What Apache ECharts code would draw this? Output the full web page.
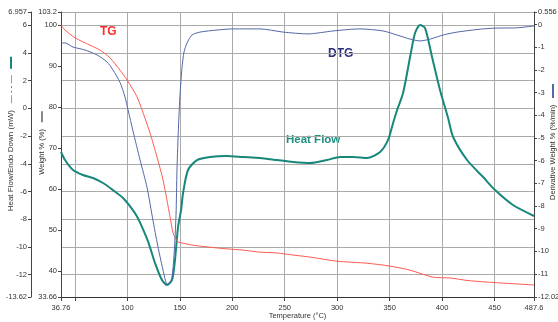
<!DOCTYPE html>
<html>
<head>
<meta charset="utf-8">
<title>TGA - DTG - Heat Flow</title>
<script src="https://cdn.jsdelivr.net/npm/echarts@6/dist/echarts.min.js"></script>
<style>
  html, body { margin: 0; padding: 0; background: #fff; }
  #main { width: 558px; height: 322px; }
</style>
</head>
<body>
<div id="main"></div>
<script>
// TG: weight % vs temperature
var tgTemp = [36.76, 40.6, 50.1, 64.4, 74.0, 83.5, 93.0, 99.7, 109.2, 116.8, 121.6, 128.3, 134.0, 140.7, 143.5, 146.0, 148.3, 153.1, 162.6, 178.8, 195.0, 210.3, 226.5, 242.7, 258.0, 274.2, 299.9, 328.5, 350.4, 369.5, 391.4, 407.6, 423.8, 442.9, 467.6, 487.6];
var tgWeight = [100.0, 98.8, 96.9, 95.1, 93.9, 92.0, 89.0, 86.6, 82.5, 77.3, 73.7, 67.8, 62.2, 53.2, 49.3, 48.0, 47.1, 46.8, 46.3, 45.8, 45.4, 45.1, 44.6, 44.4, 43.9, 43.4, 42.4, 41.9, 41.2, 40.2, 38.5, 38.3, 37.7, 37.3, 36.9, 36.6];

// DTG: derivative weight %/min
var dtgTemp = [36.76, 40.6, 48.2, 59.6, 71.1, 80.6, 86.3, 93.0, 97.8, 100.6, 105.4, 112.1, 118.7, 123.5, 128.3, 134.0, 138.0, 140.7, 142.6, 144.5, 146.4, 147.3, 148.8, 150.2, 152.1, 154.0, 156.9, 161.6, 169.3, 185.5, 200.7, 226.5, 248.4, 272.2, 296.1, 321.8, 343.7, 357.1, 369.5, 379.0, 388.6, 401.0, 414.3, 439.1, 455.3, 467.6, 487.6];
var dtgValue = [-0.81, -0.81, -0.99, -1.12, -1.34, -1.65, -2.00, -2.55, -3.20, -3.75, -4.70, -5.97, -7.17, -8.40, -9.60, -10.83, -11.45, -11.36, -11.14, -10.17, -8.40, -6.42, -4.43, -3.10, -1.91, -1.21, -0.81, -0.46, -0.33, -0.24, -0.19, -0.19, -0.33, -0.41, -0.28, -0.19, -0.28, -0.46, -0.64, -0.72, -0.64, -0.46, -0.33, -0.19, -0.15, -0.15, -0.06];

// Heat flow, endo down (mW)
var hfTemp = [36.76, 40.6, 48.2, 57.7, 67.3, 76.8, 86.3, 95.9, 104.4, 109.2, 112.1, 119.7, 126.4, 133.0, 137.8, 142.6, 145.4, 148.3, 151.2, 153.1, 157.8, 166.4, 178.8, 195.0, 210.3, 226.5, 242.7, 258.0, 274.2, 290.3, 302.7, 315.1, 328.5, 340.9, 348.5, 353.3, 357.1, 362.8, 369.5, 374.2, 379.0, 383.8, 390.4, 398.0, 405.7, 410.5, 423.8, 439.1, 450.5, 467.6, 487.6];
var hfValue = [-3.15, -3.73, -4.45, -4.81, -5.03, -5.39, -5.90, -6.47, -7.25, -7.80, -8.25, -9.60, -11.17, -12.39, -12.75, -12.39, -10.95, -8.57, -7.34, -6.11, -4.45, -3.73, -3.51, -3.44, -3.51, -3.58, -3.73, -3.87, -3.95, -3.73, -3.51, -3.51, -3.58, -3.15, -2.28, -1.06, -0.12, 1.11, 3.71, 5.44, 6.02, 5.80, 3.71, 1.33, -0.70, -2.07, -3.73, -4.96, -5.90, -6.98, -7.77];

// axis ticks / labels
var xLabels = [36.76, 100, 150, 200, 250, 300, 350, 400, 450, 487.6];
var xTicks = [36.76, 50, 100, 150, 200, 250, 300, 350, 400, 450, 487.6];
var hfTicks = [-13.62, -12, -10, -8, -6, -4, -2, 0, 2, 4, 6, 6.957];
var wTicks = [33.66, 40, 50, 60, 70, 80, 90, 100, 103.2];
var dTicks = [-12.02, -11, -10, -9, -8, -7, -6, -5, -4, -3, -2, -1, 0, 0.556];

var FONT = "'Liberation Sans', Arial, sans-serif";
var TEAL = '#17877a', RED = '#ff5a4f', BLUE = '#5468a8';

function pairs(xs, ys) {
    var out = [];
    for (var i = 0; i < xs.length; i++) out.push([xs[i], ys[i]]);
    return out;
}

function yAxisBase(min, max, ticks, pos, offset) {
    return {
        type: 'value', position: pos, offset: offset,
        min: min, max: max,
        axisLine: { show: true, onZero: false, lineStyle: { color: '#444', width: 1 } },
        axisTick: { show: true, length: 3, customValues: ticks, lineStyle: { color: '#444' } },
        axisLabel: { customValues: ticks, fontSize: 7.5, color: '#333', fontFamily: FONT, margin: 4 },
        splitLine: { show: false }
    };
}

var hfAxis = yAxisBase(-13.62, 6.957, hfTicks, 'left', 30);
hfAxis.splitLine = { show: true, lineStyle: { color: '#aaa', width: 1 } };
var wAxis = yAxisBase(33.66, 103.2, wTicks, 'left', 0);
var dAxis = yAxisBase(-12.02, 0.556, dTicks, 'right', 0);

var chart = echarts.init(document.getElementById('main'));
chart.setOption({
    animation: false,
    backgroundColor: '#fff',
    grid: { left: 61, right: 24, top: 12, bottom: 25, outerBoundsMode: 'none', containLabel: false },
    xAxis: {
        type: 'value', min: 36.76, max: 487.6,
        name: 'Temperature (°C)', nameLocation: 'middle', nameGap: 15, nameMoveOverlap: false,
        nameTextStyle: { fontSize: 7.5, color: '#333', fontFamily: FONT },
        axisLine: { onZero: false, lineStyle: { color: '#333', width: 1 } },
        axisTick: { length: 4, customValues: xTicks, lineStyle: { color: '#444' } },
        axisLabel: { customValues: xLabels, fontSize: 7.5, color: '#333', fontFamily: FONT, margin: 7 },
        splitLine: { show: true, lineStyle: { color: '#aaa', width: 1 } }
    },
    yAxis: [hfAxis, wAxis, dAxis],
    series: [
        {
            name: 'Heat Flow', type: 'line', yAxisIndex: 0, data: pairs(hfTemp, hfValue),
            showSymbol: false, smooth: 0.25,
            lineStyle: { color: TEAL, width: 2 }, z: 3
        },
        {
            name: 'TG', type: 'line', yAxisIndex: 1, data: pairs(tgTemp, tgWeight),
            showSymbol: false, smooth: 0.25,
            lineStyle: { color: RED, width: 1 }, z: 4
        },
        {
            name: 'DTG', type: 'line', yAxisIndex: 2, data: pairs(dtgTemp, dtgValue),
            showSymbol: false, smooth: 0.25,
            lineStyle: { color: BLUE, width: 1 }, z: 5
        }
    ],
    graphic: [
        { type: 'text', x: 100, y: 32, style: { text: 'TG', fill: '#ff2a2a', font: 'bold 12px Arial, sans-serif', verticalAlign: 'middle' } },
        { type: 'text', x: 328, y: 54, style: { text: 'DTG', fill: '#2c2f7c', font: 'bold 12px Arial, sans-serif', verticalAlign: 'middle' } },
        { type: 'text', x: 286, y: 140, style: { text: 'Heat Flow', fill: '#1f8f80', font: 'bold 11.5px Arial, sans-serif', verticalAlign: 'middle' } },
        {
            type: 'text', x: 11, y: 134, rotation: Math.PI / 2,
            style: {
                text: '{t|Heat Flow/Endo Down (mW)}  {k|— - - —}  {g|}',
                align: 'center', verticalAlign: 'middle',
                rich: {
                    t: { fontSize: 8, fontFamily: FONT, fill: '#333' },
                    k: { fontSize: 8, fontFamily: FONT, fill: '#333' },
                    g: { width: 12, height: 2, backgroundColor: TEAL }
                }
            }
        },
        {
            type: 'text', x: 42, y: 143, rotation: Math.PI / 2,
            style: {
                text: '{t|Weight % (%)}  {s|}',
                align: 'center', verticalAlign: 'middle',
                rich: {
                    t: { fontSize: 7.5, fontFamily: FONT, fill: '#333' },
                    s: { width: 11, height: 2, backgroundColor: '#888' }
                }
            }
        },
        {
            type: 'text', x: 553, y: 142, rotation: Math.PI / 2,
            style: {
                text: '{t|Derivative Weight % (%/min)}  {s|}',
                align: 'center', verticalAlign: 'middle',
                rich: {
                    t: { fontSize: 7.5, fontFamily: FONT, fill: '#333' },
                    s: { width: 14, height: 2, backgroundColor: BLUE }
                }
            }
        }
    ]
});
</script>
</body>
</html>
